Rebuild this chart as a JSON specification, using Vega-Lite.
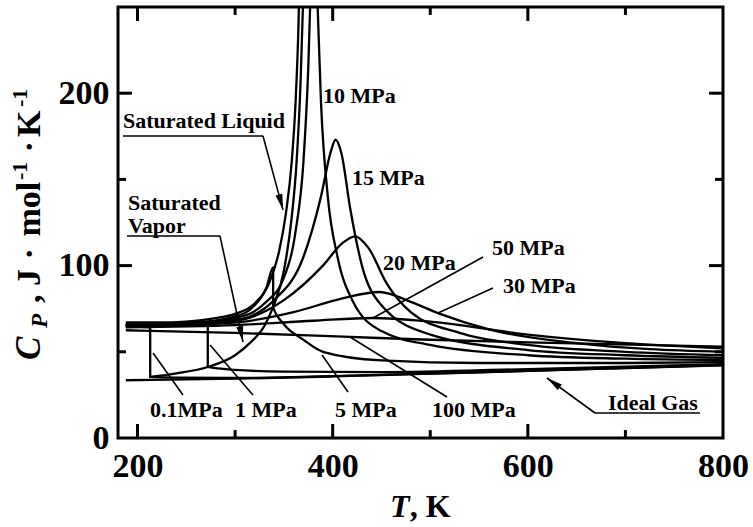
{
  "$schema": "https://vega.github.io/schema/vega-lite/v6.json",
  "width": 605,
  "height": 431,
  "autosize": {"type": "none"},
  "padding": {"left": 118, "top": 7, "right": 30, "bottom": 89},
  "background": "white",
  "config": {"view": {"stroke": "black", "strokeWidth": 3}, "font": "Liberation Serif"},
  "datasets": {
    "curves": [
      {"s": "Ideal Gas", "i": 1, "T": 188, "Cp": 33.5},
      {"s": "Ideal Gas", "i": 2, "T": 300, "Cp": 34.4},
      {"s": "Ideal Gas", "i": 3, "T": 400, "Cp": 35.7},
      {"s": "Ideal Gas", "i": 4, "T": 500, "Cp": 37.3},
      {"s": "Ideal Gas", "i": 5, "T": 600, "Cp": 38.9},
      {"s": "Ideal Gas", "i": 6, "T": 700, "Cp": 40.6},
      {"s": "Ideal Gas", "i": 7, "T": 800, "Cp": 42.2},

      {"s": "Saturated Liquid", "i": 1, "T": 188, "Cp": 67},
      {"s": "Saturated Liquid", "i": 2, "T": 220, "Cp": 67},
      {"s": "Saturated Liquid", "i": 3, "T": 250, "Cp": 67.5},
      {"s": "Saturated Liquid", "i": 4, "T": 280, "Cp": 69.5},
      {"s": "Saturated Liquid", "i": 5, "T": 300, "Cp": 72},
      {"s": "Saturated Liquid", "i": 6, "T": 320, "Cp": 78},
      {"s": "Saturated Liquid", "i": 7, "T": 335, "Cp": 90},
      {"s": "Saturated Liquid", "i": 8, "T": 345, "Cp": 108},
      {"s": "Saturated Liquid", "i": 9, "T": 352, "Cp": 130},
      {"s": "Saturated Liquid", "i": 10, "T": 358, "Cp": 160},
      {"s": "Saturated Liquid", "i": 11, "T": 362, "Cp": 195},
      {"s": "Saturated Liquid", "i": 12, "T": 365, "Cp": 240},
      {"s": "Saturated Liquid", "i": 13, "T": 367, "Cp": 290},

      {"s": "Saturated Vapor", "i": 1, "T": 213, "Cp": 35.4},
      {"s": "Saturated Vapor", "i": 2, "T": 240, "Cp": 37.5},
      {"s": "Saturated Vapor", "i": 3, "T": 272, "Cp": 41.2},
      {"s": "Saturated Vapor", "i": 4, "T": 300, "Cp": 48},
      {"s": "Saturated Vapor", "i": 5, "T": 315, "Cp": 55},
      {"s": "Saturated Vapor", "i": 6, "T": 330, "Cp": 65},
      {"s": "Saturated Vapor", "i": 7, "T": 339, "Cp": 76},
      {"s": "Saturated Vapor", "i": 8, "T": 350, "Cp": 97},
      {"s": "Saturated Vapor", "i": 9, "T": 358, "Cp": 128},
      {"s": "Saturated Vapor", "i": 10, "T": 363, "Cp": 160},
      {"s": "Saturated Vapor", "i": 11, "T": 367, "Cp": 205},
      {"s": "Saturated Vapor", "i": 12, "T": 369.5, "Cp": 250},
      {"s": "Saturated Vapor", "i": 13, "T": 371, "Cp": 290},

      {"s": "0.1 MPa", "i": 1, "T": 188, "Cp": 64.8},
      {"s": "0.1 MPa", "i": 2, "T": 213, "Cp": 64.2},
      {"s": "0.1 MPa", "i": 3, "T": 213, "Cp": 35.4},
      {"s": "0.1 MPa", "i": 4, "T": 240, "Cp": 35},
      {"s": "0.1 MPa", "i": 5, "T": 300, "Cp": 34.8},
      {"s": "0.1 MPa", "i": 6, "T": 400, "Cp": 35.9},
      {"s": "0.1 MPa", "i": 7, "T": 600, "Cp": 39},
      {"s": "0.1 MPa", "i": 8, "T": 800, "Cp": 42.3},

      {"s": "1 MPa", "i": 1, "T": 188, "Cp": 65.5},
      {"s": "1 MPa", "i": 2, "T": 230, "Cp": 65.2},
      {"s": "1 MPa", "i": 3, "T": 272, "Cp": 65},
      {"s": "1 MPa", "i": 4, "T": 272, "Cp": 41.2},
      {"s": "1 MPa", "i": 5, "T": 300, "Cp": 39.5},
      {"s": "1 MPa", "i": 6, "T": 350, "Cp": 38.5},
      {"s": "1 MPa", "i": 7, "T": 450, "Cp": 38.2},
      {"s": "1 MPa", "i": 8, "T": 600, "Cp": 40},
      {"s": "1 MPa", "i": 9, "T": 800, "Cp": 42.8},

      {"s": "5 MPa", "i": 1, "T": 188, "Cp": 66},
      {"s": "5 MPa", "i": 2, "T": 250, "Cp": 66.5},
      {"s": "5 MPa", "i": 3, "T": 300, "Cp": 70.5},
      {"s": "5 MPa", "i": 4, "T": 320, "Cp": 77},
      {"s": "5 MPa", "i": 5, "T": 332, "Cp": 87},
      {"s": "5 MPa", "i": 6, "T": 339, "Cp": 99},
      {"s": "5 MPa", "i": 7, "T": 339, "Cp": 76},
      {"s": "5 MPa", "i": 8, "T": 350, "Cp": 66},
      {"s": "5 MPa", "i": 9, "T": 370, "Cp": 57},
      {"s": "5 MPa", "i": 10, "T": 390, "Cp": 50},
      {"s": "5 MPa", "i": 11, "T": 450, "Cp": 45},
      {"s": "5 MPa", "i": 12, "T": 550, "Cp": 43.5},
      {"s": "5 MPa", "i": 13, "T": 700, "Cp": 43.5},
      {"s": "5 MPa", "i": 14, "T": 800, "Cp": 44},

      {"s": "10 MPa", "i": 1, "T": 188, "Cp": 65.8},
      {"s": "10 MPa", "i": 2, "T": 250, "Cp": 66.5},
      {"s": "10 MPa", "i": 3, "T": 300, "Cp": 69.5},
      {"s": "10 MPa", "i": 4, "T": 330, "Cp": 78},
      {"s": "10 MPa", "i": 5, "T": 350, "Cp": 93},
      {"s": "10 MPa", "i": 6, "T": 362, "Cp": 120},
      {"s": "10 MPa", "i": 7, "T": 370, "Cp": 160},
      {"s": "10 MPa", "i": 8, "T": 375, "Cp": 215},
      {"s": "10 MPa", "i": 9, "T": 378, "Cp": 270},
      {"s": "10 MPa", "i": 10, "T": 381, "Cp": 300},
      {"s": "10 MPa", "i": 11, "T": 384, "Cp": 260},
      {"s": "10 MPa", "i": 12, "T": 388, "Cp": 195},
      {"s": "10 MPa", "i": 13, "T": 395, "Cp": 140},
      {"s": "10 MPa", "i": 14, "T": 405, "Cp": 105},
      {"s": "10 MPa", "i": 15, "T": 420, "Cp": 80},
      {"s": "10 MPa", "i": 16, "T": 450, "Cp": 62},
      {"s": "10 MPa", "i": 17, "T": 500, "Cp": 54},
      {"s": "10 MPa", "i": 18, "T": 600, "Cp": 48},
      {"s": "10 MPa", "i": 19, "T": 700, "Cp": 46},
      {"s": "10 MPa", "i": 20, "T": 800, "Cp": 45.2},

      {"s": "15 MPa", "i": 1, "T": 188, "Cp": 65.5},
      {"s": "15 MPa", "i": 2, "T": 300, "Cp": 68.5},
      {"s": "15 MPa", "i": 3, "T": 340, "Cp": 80},
      {"s": "15 MPa", "i": 4, "T": 370, "Cp": 105},
      {"s": "15 MPa", "i": 5, "T": 388, "Cp": 140},
      {"s": "15 MPa", "i": 6, "T": 398, "Cp": 166},
      {"s": "15 MPa", "i": 7, "T": 403, "Cp": 173},
      {"s": "15 MPa", "i": 8, "T": 409, "Cp": 165},
      {"s": "15 MPa", "i": 9, "T": 418, "Cp": 133},
      {"s": "15 MPa", "i": 10, "T": 430, "Cp": 100},
      {"s": "15 MPa", "i": 11, "T": 450, "Cp": 77},
      {"s": "15 MPa", "i": 12, "T": 500, "Cp": 60},
      {"s": "15 MPa", "i": 13, "T": 600, "Cp": 51},
      {"s": "15 MPa", "i": 14, "T": 700, "Cp": 48},
      {"s": "15 MPa", "i": 15, "T": 800, "Cp": 46.5},

      {"s": "20 MPa", "i": 1, "T": 188, "Cp": 65.2},
      {"s": "20 MPa", "i": 2, "T": 300, "Cp": 68},
      {"s": "20 MPa", "i": 3, "T": 350, "Cp": 80},
      {"s": "20 MPa", "i": 4, "T": 390, "Cp": 100},
      {"s": "20 MPa", "i": 5, "T": 410, "Cp": 113},
      {"s": "20 MPa", "i": 6, "T": 423, "Cp": 117},
      {"s": "20 MPa", "i": 7, "T": 437, "Cp": 110},
      {"s": "20 MPa", "i": 8, "T": 455, "Cp": 90},
      {"s": "20 MPa", "i": 9, "T": 480, "Cp": 73},
      {"s": "20 MPa", "i": 10, "T": 530, "Cp": 61},
      {"s": "20 MPa", "i": 11, "T": 600, "Cp": 54},
      {"s": "20 MPa", "i": 12, "T": 700, "Cp": 50},
      {"s": "20 MPa", "i": 13, "T": 800, "Cp": 48},

      {"s": "30 MPa", "i": 1, "T": 188, "Cp": 64.8},
      {"s": "30 MPa", "i": 2, "T": 300, "Cp": 67},
      {"s": "30 MPa", "i": 3, "T": 360, "Cp": 73},
      {"s": "30 MPa", "i": 4, "T": 410, "Cp": 81},
      {"s": "30 MPa", "i": 5, "T": 448, "Cp": 84.7},
      {"s": "30 MPa", "i": 6, "T": 480, "Cp": 79},
      {"s": "30 MPa", "i": 7, "T": 510, "Cp": 72},
      {"s": "30 MPa", "i": 8, "T": 560, "Cp": 63},
      {"s": "30 MPa", "i": 9, "T": 650, "Cp": 55},
      {"s": "30 MPa", "i": 10, "T": 800, "Cp": 50},

      {"s": "50 MPa", "i": 1, "T": 188, "Cp": 64.2},
      {"s": "50 MPa", "i": 2, "T": 300, "Cp": 65.5},
      {"s": "50 MPa", "i": 3, "T": 380, "Cp": 68},
      {"s": "50 MPa", "i": 4, "T": 441, "Cp": 69.6},
      {"s": "50 MPa", "i": 5, "T": 500, "Cp": 67.5},
      {"s": "50 MPa", "i": 6, "T": 600, "Cp": 60},
      {"s": "50 MPa", "i": 7, "T": 700, "Cp": 55},
      {"s": "50 MPa", "i": 8, "T": 800, "Cp": 52},

      {"s": "100 MPa", "i": 1, "T": 188, "Cp": 62.5},
      {"s": "100 MPa", "i": 2, "T": 300, "Cp": 61},
      {"s": "100 MPa", "i": 3, "T": 418, "Cp": 58.6},
      {"s": "100 MPa", "i": 4, "T": 500, "Cp": 57},
      {"s": "100 MPa", "i": 5, "T": 600, "Cp": 55.5},
      {"s": "100 MPa", "i": 6, "T": 800, "Cp": 53}
    ],
    "tickMarks": [
      {"k": "b200", "i": 1, "T": 200, "Cp": 0}, {"k": "b200", "i": 2, "T": 200, "Cp": 8.1},
      {"k": "b400", "i": 1, "T": 400, "Cp": 0}, {"k": "b400", "i": 2, "T": 400, "Cp": 8.1},
      {"k": "b600", "i": 1, "T": 600, "Cp": 0}, {"k": "b600", "i": 2, "T": 600, "Cp": 8.1},
      {"k": "b300", "i": 1, "T": 300, "Cp": 0}, {"k": "b300", "i": 2, "T": 300, "Cp": 4.6},
      {"k": "b500", "i": 1, "T": 500, "Cp": 0}, {"k": "b500", "i": 2, "T": 500, "Cp": 4.6},
      {"k": "b700", "i": 1, "T": 700, "Cp": 0}, {"k": "b700", "i": 2, "T": 700, "Cp": 4.6},
      {"k": "t200", "i": 1, "T": 200, "Cp": 250}, {"k": "t200", "i": 2, "T": 200, "Cp": 241.9},
      {"k": "t400", "i": 1, "T": 400, "Cp": 250}, {"k": "t400", "i": 2, "T": 400, "Cp": 241.9},
      {"k": "t600", "i": 1, "T": 600, "Cp": 250}, {"k": "t600", "i": 2, "T": 600, "Cp": 241.9},
      {"k": "t300", "i": 1, "T": 300, "Cp": 250}, {"k": "t300", "i": 2, "T": 300, "Cp": 245.4},
      {"k": "t500", "i": 1, "T": 500, "Cp": 250}, {"k": "t500", "i": 2, "T": 500, "Cp": 245.4},
      {"k": "t700", "i": 1, "T": 700, "Cp": 250}, {"k": "t700", "i": 2, "T": 700, "Cp": 245.4},
      {"k": "l100", "i": 1, "T": 180, "Cp": 100}, {"k": "l100", "i": 2, "T": 194.3, "Cp": 100},
      {"k": "l200", "i": 1, "T": 180, "Cp": 200}, {"k": "l200", "i": 2, "T": 194.3, "Cp": 200},
      {"k": "l50", "i": 1, "T": 180, "Cp": 50}, {"k": "l50", "i": 2, "T": 188.2, "Cp": 50},
      {"k": "l150", "i": 1, "T": 180, "Cp": 150}, {"k": "l150", "i": 2, "T": 188.2, "Cp": 150},
      {"k": "r100", "i": 1, "T": 800, "Cp": 100}, {"k": "r100", "i": 2, "T": 785.7, "Cp": 100},
      {"k": "r200", "i": 1, "T": 800, "Cp": 200}, {"k": "r200", "i": 2, "T": 785.7, "Cp": 200},
      {"k": "r50", "i": 1, "T": 800, "Cp": 50}, {"k": "r50", "i": 2, "T": 791.8, "Cp": 50},
      {"k": "r150", "i": 1, "T": 800, "Cp": 150}, {"k": "r150", "i": 2, "T": 791.8, "Cp": 150}
    ],
    "leaders": [
      {"T": 185.1, "Cp": 175.2, "T2": 328.6, "Cp2": 175.2},
      {"T": 328.6, "Cp": 175.2, "T2": 349.1, "Cp2": 132.3},
      {"T": 189.2, "Cp": 117.2, "T2": 284.5, "Cp2": 117.2},
      {"T": 284.5, "Cp": 117.2, "T2": 308.1, "Cp2": 55.7},
      {"T": 246.6, "Cp": 24.9, "T2": 215.9, "Cp2": 49.3},
      {"T": 318.3, "Cp": 24.9, "T2": 274.3, "Cp2": 53.9},
      {"T": 415.7, "Cp": 26.7, "T2": 389.1, "Cp2": 48.1},
      {"T": 517.2, "Cp": 23.8, "T2": 417.8, "Cp2": 58.6},
      {"T": 554.1, "Cp": 105, "T2": 441.3, "Cp2": 69.6},
      {"T": 564.3, "Cp": 87, "T2": 507.9, "Cp2": 72.5},
      {"T": 668.8, "Cp": 14.5, "T2": 776.4, "Cp2": 14.5},
      {"T": 668.8, "Cp": 14.5, "T2": 619.6, "Cp2": 34.8}
    ],
    "arrows": [
      {"T": 349.1, "Cp": 132.3, "dir": 165},
      {"T": 308.1, "Cp": 55.7, "dir": 168},
      {"T": 619.6, "Cp": 34.8, "dir": 306}
    ],
    "labels": [
      {"text": "10 MPa", "T": 390.1, "Cp": 194.3},
      {"text": "15 MPa", "T": 419.8, "Cp": 146.8},
      {"text": "20 MPa", "T": 451.6, "Cp": 97.4},
      {"text": "50 MPa", "T": 563.3, "Cp": 106.1},
      {"text": "30 MPa", "T": 574.6, "Cp": 84.1},
      {"text": "0.1MPa", "T": 212.8, "Cp": 12.2},
      {"text": "1 MPa", "T": 299.9, "Cp": 12.2},
      {"text": "5 MPa", "T": 402.4, "Cp": 12.2},
      {"text": "100 MPa", "T": 501.8, "Cp": 12.2},
      {"text": "Ideal Gas", "T": 682.2, "Cp": 16.2},
      {"text": "Saturated Liquid", "T": 185.1, "Cp": 179.8},
      {"text": "Saturated", "T": 190.2, "Cp": 132.3},
      {"text": "Vapor", "T": 190.2, "Cp": 118.9}
    ],
    "titleItalic": [
      {"text": "T", "T": 458.7, "Cp": -45.8, "size": 32, "ang": 0},
      {"text": "C", "T": 100.1, "Cp": 45.2, "size": 35, "ang": 270},
      {"text": "P", "T": 107.5, "Cp": 63.8, "size": 23, "ang": 270}
    ],
    "titleUpright": [
      {"text": ", K", "T": 479, "Cp": -45.8, "size": 32, "ang": 0},
      {"text": ", J", "T": 100.1, "Cp": 78.3, "size": 34, "ang": 270},
      {"text": "·", "T": 100.1, "Cp": 103.5, "size": 34, "ang": 270},
      {"text": "mol", "T": 100.1, "Cp": 116.9, "size": 34, "ang": 270},
      {"text": "-1", "T": 87, "Cp": 149.6, "size": 22, "ang": 270},
      {"text": "·", "T": 100.1, "Cp": 165.6, "size": 34, "ang": 270},
      {"text": "K", "T": 100.1, "Cp": 174.6, "size": 34, "ang": 270},
      {"text": "-1", "T": 87, "Cp": 192, "size": 22, "ang": 270}
    ]
  },
  "layer": [
    {
      "data": {"name": "curves"},
      "mark": {"type": "line", "clip": true, "color": "black", "strokeWidth": 2.3, "interpolate": "monotone"},
      "encoding": {
        "x": {
          "field": "T", "type": "quantitative",
          "scale": {"domain": [180, 800], "nice": false, "zero": false},
          "axis": {
            "orient": "bottom", "title": null, "grid": false, "ticks": false, "domain": false,
            "values": [200, 400, 600, 800],
            "labelFont": "Liberation Serif", "labelFontWeight": "bold", "labelFontSize": 34,
            "labelColor": "black", "labelPadding": 11, "labelFlush": false, "labelOverlap": false
          }
        },
        "y": {
          "field": "Cp", "type": "quantitative",
          "scale": {"domain": [0, 250], "nice": false},
          "axis": {
            "orient": "left", "title": null, "grid": false, "ticks": false, "domain": false,
            "values": [0, 100, 200],
            "labelFont": "Liberation Serif", "labelFontWeight": "bold", "labelFontSize": 34,
            "labelColor": "black", "labelPadding": 9, "labelFlush": false, "labelOverlap": false
          }
        },
        "detail": {"field": "s"},
        "order": {"field": "i"}
      }
    },
    {
      "data": {"name": "tickMarks"},
      "mark": {"type": "line", "color": "black", "strokeWidth": 3, "strokeCap": "butt"},
      "encoding": {
        "x": {"field": "T", "type": "quantitative"},
        "y": {"field": "Cp", "type": "quantitative"},
        "detail": {"field": "k"},
        "order": {"field": "i"}
      }
    },
    {
      "data": {"name": "leaders"},
      "mark": {"type": "rule", "color": "black", "strokeWidth": 1.6},
      "encoding": {
        "x": {"field": "T", "type": "quantitative"},
        "y": {"field": "Cp", "type": "quantitative"},
        "x2": {"field": "T2"},
        "y2": {"field": "Cp2"}
      }
    },
    {
      "data": {"name": "arrows"},
      "mark": {"type": "point", "filled": true, "color": "black", "opacity": 1, "shape": "M0,0L-0.22,1L0.22,1Z", "size": 1000},
      "encoding": {
        "x": {"field": "T", "type": "quantitative"},
        "y": {"field": "Cp", "type": "quantitative"},
        "angle": {"field": "dir", "type": "quantitative", "scale": null}
      }
    },
    {
      "data": {"name": "labels"},
      "mark": {"type": "text", "align": "left", "baseline": "alphabetic", "font": "Liberation Serif", "fontWeight": "bold", "fontSize": 22, "color": "black"},
      "encoding": {
        "x": {"field": "T", "type": "quantitative"},
        "y": {"field": "Cp", "type": "quantitative"},
        "text": {"field": "text"}
      }
    },
    {
      "data": {"name": "titleItalic"},
      "mark": {"type": "text", "align": "left", "baseline": "alphabetic", "font": "Liberation Serif", "fontWeight": "bold", "fontStyle": "italic", "color": "black"},
      "encoding": {
        "x": {"field": "T", "type": "quantitative"},
        "y": {"field": "Cp", "type": "quantitative"},
        "text": {"field": "text"},
        "size": {"field": "size", "type": "quantitative", "scale": null},
        "angle": {"field": "ang", "type": "quantitative", "scale": null}
      }
    },
    {
      "data": {"name": "titleUpright"},
      "mark": {"type": "text", "align": "left", "baseline": "alphabetic", "font": "Liberation Serif", "fontWeight": "bold", "color": "black"},
      "encoding": {
        "x": {"field": "T", "type": "quantitative"},
        "y": {"field": "Cp", "type": "quantitative"},
        "text": {"field": "text"},
        "size": {"field": "size", "type": "quantitative", "scale": null},
        "angle": {"field": "ang", "type": "quantitative", "scale": null}
      }
    }
  ]
}
